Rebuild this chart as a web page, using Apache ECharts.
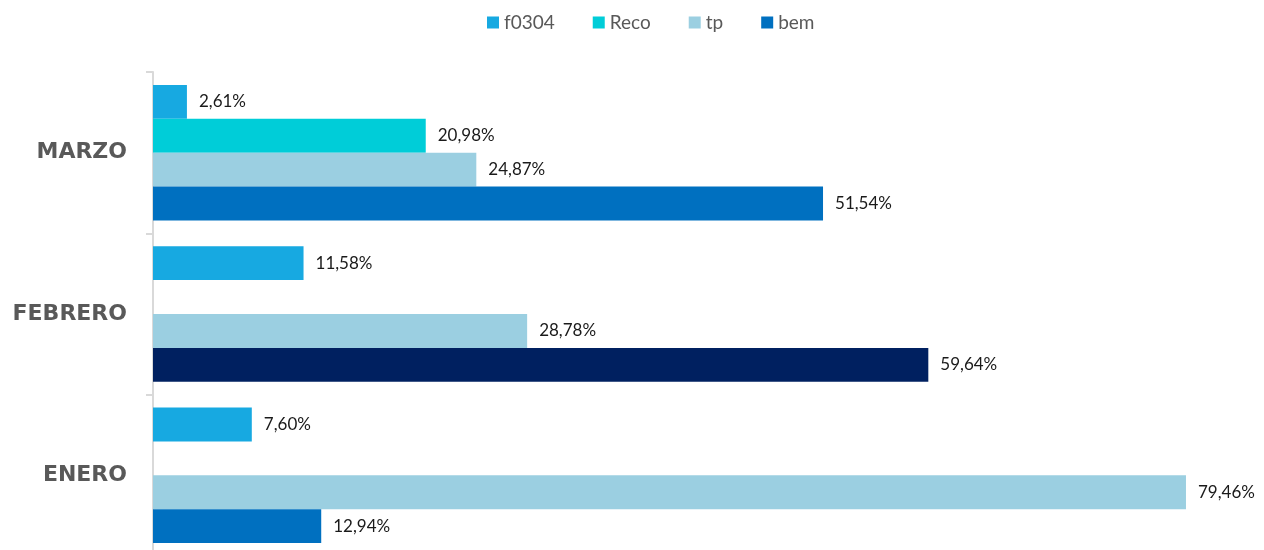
<!DOCTYPE html>
<html><head><meta charset="utf-8">
<script src="https://cdn.jsdelivr.net/npm/echarts@6/dist/echarts.min.js"></script>
<style>html,body{margin:0;padding:0;background:#fff;overflow:hidden;height:550px}#c{width:1264px;height:556px}</style>
</head><body><div id="c"></div>
<script>
const categories = ['ENERO', 'FEBRERO', 'MARZO'];
const seriesNames = ['f0304', 'Reco', 'tp', 'bem'];
const f0304 = [7.60, 11.58, 2.61];
const reco = [null, null, 20.98];
const tp = [79.46, 28.78, 24.87];
const bem = [12.94, 59.64, 51.54];
const colors = {f0304: '#17A9E1', Reco: '#00CDD8', tp: '#9BCFE1', bem: '#0070C0'};
const bemFebColor = '#002060';

const fmt = p => p.value == null ? '' : p.value.toFixed(2).replace('.', ',') + '%';
const lbl = {show: true, position: 'right', distance: 12, formatter: fmt, color: '#1a1a1a', fontSize: 17, fontFamily: 'Lato, sans-serif'};

function mk(name, data) {
  return {name, type: 'bar', data: data.map((v, i) => {
      const o = {value: v};
      if (name === 'bem' && categories[i] === 'FEBRERO') o.itemStyle = {color: bemFebColor};
      return o;
    }), itemStyle: {color: colors[name]}, label: lbl, barGap: '0%', barCategoryGap: '16%'};
}

const chart = echarts.init(document.getElementById('c'));
chart.setOption({
  animation: false,
  legend: {data: seriesNames.map(n => ({name: n, itemStyle: {color: colors[n]}})), top: 8, left: 482, itemWidth: 12, itemHeight: 12, itemGap: 38,
    icon: 'rect', textStyle: {color: '#595959', fontSize: 19, fontFamily: 'Lato, sans-serif'}},
  grid: {left: 153, right: 6, top: 72, bottom: 0, containLabel: false},
  xAxis: {type: 'value', min: 0, max: 85, show: false},
  yAxis: {type: 'category', data: categories,
    axisLine: {show: true, lineStyle: {color: '#D9D9D9', width: 2}},
    axisTick: {show: true, length: 7, lineStyle: {color: '#D9D9D9', width: 2}},
    axisLabel: {margin: 26, color: '#595959', fontSize: 22, fontWeight: 'bold', fontFamily: 'DejaVu Sans, sans-serif'}},
  series: [mk('f0304', f0304), mk('Reco', reco), mk('tp', tp), mk('bem', bem)]
});
</script></body></html>
